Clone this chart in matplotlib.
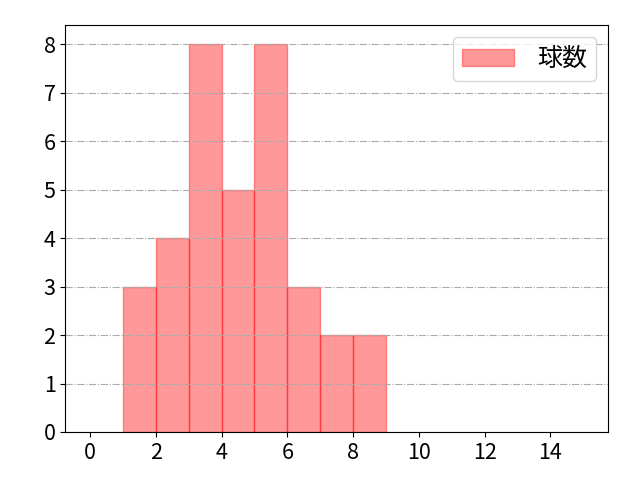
import matplotlib
matplotlib.use('Agg')
import matplotlib.pyplot as plt

plt.rcParams['font.family'] = ['Noto Sans CJK JP', 'DejaVu Sans']

bin_left = [1, 2, 3, 4, 5, 6, 7, 8]
counts = [3, 4, 8, 5, 8, 3, 2, 2]
label = '球数'

fig, ax = plt.subplots(figsize=(6.4, 4.8), dpi=100)
ax.bar(bin_left, counts, width=1, align='edge', color='red', alpha=0.4,
       edgecolor='red', linewidth=1, label=label)
ax.set_xlim(-0.75, 15.75)
ax.set_ylim(0, 8.4)
ax.set_xticks(range(0, 15, 2))
ax.set_yticks(range(0, 9))
ax.tick_params(labelsize=15.5)
ax.grid(axis='y', linestyle='-.', color='#aaaaaa', linewidth=0.8)
ax.legend(loc='upper right', fontsize=18, handlelength=2.1, handletextpad=0.9,
          borderpad=0.35)
fig.subplots_adjust(left=0.102, right=0.95, top=0.948, bottom=0.1)
fig.savefig('out.png')
